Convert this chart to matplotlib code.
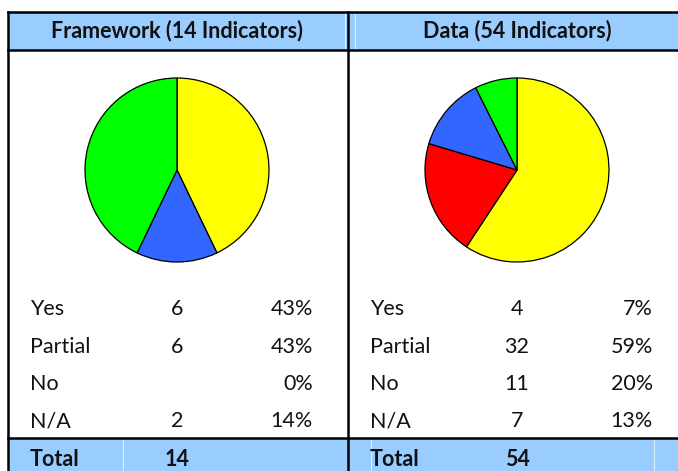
import matplotlib
matplotlib.use('Agg')
import matplotlib.pyplot as plt

# rows of the two summary tables
labels = ['Yes', 'Partial', 'No', 'N/A']
framework_counts = [6, 6, 0, 2]
data_counts = [4, 32, 11, 7]
titles = ['Framework (14 Indicators)', 'Data (54 Indicators)']

# pie slices go clockwise from the top in this order
pie_order = ['Partial', 'No', 'N/A', 'Yes']
slice_colors = {'Partial': '#FFFF00', 'No': '#FF0000', 'N/A': '#3366FF', 'Yes': '#00FF00'}

header_blue = '#99CCFF'
plt.rcParams['font.family'] = ['Lato', 'DejaVu Sans']
fs = 15.5

fig = plt.figure(figsize=(6.78, 4.71), dpi=100)
ax = fig.add_axes([0, 0, 1, 1])

# blue header and total bands
ax.fill_between([8, 678], 12, 50, color=header_blue, lw=0)
ax.fill_between([8, 678], 438, 471, color=header_blue, lw=0)
# faint cell lines inside the blue bands
for x in [345, 355]:
    ax.plot([x, x], [13, 49], color='#DDEEFF', lw=0.8)
for x in [123, 371, 654]:
    ax.plot([x, x], [439, 471], color='#DDEEFF', lw=0.8)

# black frame lines
ax.plot([8, 678], [12, 12], color='black', lw=1.8)
ax.plot([8, 678], [50, 50], color='black', lw=1.8)
ax.plot([8, 678], [438, 438], color='black', lw=1.8)
ax.plot([8, 8], [12, 471], color='black', lw=1.8)
ax.plot([348, 348], [12, 471], color='black', lw=1.8)

panels = [(framework_counts, 0), (data_counts, 340)]
row_y = [309, 347, 384, 421]
for i, (counts, dx) in enumerate(panels):
    total = sum(counts)
    ax.text(177 + dx, 31, titles[i], ha='center', va='center',
            fontsize=fs, fontweight='bold', color='#111111')

    vals = [counts[labels.index(k)] for k in pie_order]
    cols = [slice_colors[k] for k in pie_order]
    keep = [j for j, v in enumerate(vals) if v > 0]
    # y axis is flipped, so -90 is the top and counterclock turns clockwise on screen
    ax.pie([vals[j] for j in keep], colors=[cols[j] for j in keep],
           startangle=-90, counterclock=True, center=(177 + dx, 170), radius=92,
           wedgeprops=dict(edgecolor='black', linewidth=0.9), frame=True)

    for lab, c, y in zip(labels, counts, row_y):
        ax.text(30 + dx, y, lab, ha='left', va='center', fontsize=fs, color='#111111')
        if c:
            ax.text(177 + dx, y, str(c), ha='center', va='center', fontsize=fs, color='#111111')
        ax.text(313 + dx, y, '%d%%' % round(100.0 * c / total), ha='right', va='center',
                fontsize=fs, color='#111111')

    ax.text(30 + dx, 460, 'Total', ha='left', va='center', fontsize=fs,
            fontweight='bold', color='#111111')
    ax.text(177 + dx, 460, str(total), ha='center', va='center', fontsize=fs,
            fontweight='bold', color='#111111')

ax.set_xlim(0, 678)
ax.set_ylim(471, 0)
ax.set_aspect('auto')
ax.axis('off')
fig.savefig('out.png', dpi=100)
